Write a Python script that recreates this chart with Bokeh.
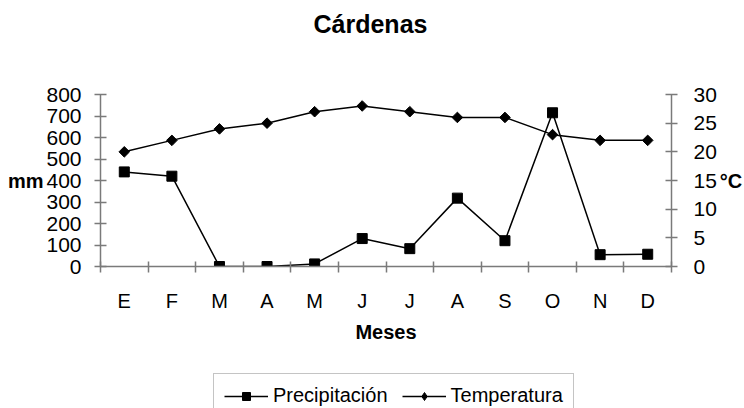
from bokeh.plotting import figure
from bokeh.layouts import column
from bokeh.models import Range1d, LinearAxis, FixedTicker, Legend, LegendItem
from bokeh.embed import file_html
from bokeh.resources import INLINE

months = ["E", "F", "M", "A", "M", "J", "J", "A", "S", "O", "N", "D"]
precipitacion = [440, 420, 0, 0, 12, 130, 83, 318, 120, 715, 55, 57]
temperatura = [20, 22, 24, 25, 27, 28, 27, 26, 26, 23, 22, 22]
mm_ticks = [0, 100, 200, 300, 400, 500, 600, 700, 800]
c_ticks = [0, 5, 10, 15, 20, 25, 30]

FONT = "Liberation Sans"
AX = "#7a7a7a"

xs = [i + 0.5 for i in range(len(months))]

# ---- title strip ----
t = figure(width=744, height=50, output_backend="svg", toolbar_location=None,
           x_axis_type=None, y_axis_type=None, min_border=0,
           title="Cárdenas")
t.outline_line_color = None
t.grid.visible = False
t.title.align = "left"
t.title.offset = 213
t.title.standoff = 14
t.title.text_font = FONT
t.title.text_font_size = "25px"
t.title.text_font_style = "bold"
t.title.text_color = "black"

# ---- main chart ----
p = figure(frame_width=571, frame_height=172, x_range=Range1d(0, len(months)),
           y_range=Range1d(mm_ticks[0], mm_ticks[-1]),
           output_backend="svg", toolbar_location=None,
           min_border_left=100, min_border_right=73,
           min_border_top=44, min_border_bottom=106)
p.extra_y_ranges = {"temp": Range1d(c_ticks[0], c_ticks[-1])}
p.xgrid.visible = False
p.ygrid.visible = False
p.outline_line_color = None

xa = p.xaxis[0]
xa.ticker = FixedTicker(ticks=xs, minor_ticks=list(range(len(months) + 1)))
xa.major_label_overrides = {x: m for x, m in zip(xs, months)}
xa.major_tick_in = 0
xa.major_tick_out = 0
xa.minor_tick_in = 5
xa.minor_tick_out = 6
xa.minor_tick_line_color = AX
xa.axis_line_color = AX
xa.axis_line_width = 1.5
xa.minor_tick_line_width = 1.5
xa.major_label_standoff = 17
xa.major_label_text_font = FONT
xa.major_label_text_font_size = "20px"
xa.major_label_text_color = "black"
xa.axis_label = "Meses"
xa.axis_label_text_font = FONT
xa.axis_label_text_font_size = "20px"
xa.axis_label_text_font_style = "bold"
xa.axis_label_text_color = "black"
xa.axis_label_standoff = 6

ya = p.yaxis[0]
ya.ticker = FixedTicker(ticks=mm_ticks, minor_ticks=[])
ya.major_tick_in = 6
ya.major_tick_out = 6
ya.major_tick_line_color = AX
ya.major_tick_line_width = 1.5
ya.axis_line_color = AX
ya.axis_line_width = 1.5
ya.minor_tick_line_color = None
ya.major_label_standoff = 13
ya.major_label_text_font = FONT
ya.major_label_text_font_size = "21px"
ya.major_label_text_color = "black"
ya.axis_label = "mm"
ya.axis_label_orientation = "horizontal"
ya.axis_label_standoff = 0
ya.axis_label_text_font = FONT
ya.axis_label_text_font_size = "20px"
ya.axis_label_text_font_style = "bold"
ya.axis_label_text_color = "black"

ra = LinearAxis(y_range_name="temp", ticker=FixedTicker(ticks=c_ticks, minor_ticks=[]))
ra.major_tick_in = 6
ra.major_tick_out = 6
ra.major_tick_line_color = AX
ra.major_tick_line_width = 1.5
ra.axis_line_color = AX
ra.axis_line_width = 1.5
ra.minor_tick_line_color = None
ra.major_label_standoff = 16
ra.major_label_text_font = FONT
ra.major_label_text_font_size = "21px"
ra.major_label_text_color = "black"
ra.axis_label = "°C"
ra.axis_label_orientation = "horizontal"
ra.axis_label_standoff = 0
ra.axis_label_text_font = FONT
ra.axis_label_text_font_size = "20px"
ra.axis_label_text_font_style = "bold"
ra.axis_label_text_color = "black"
p.add_layout(ra, "right")

p.line(xs, precipitacion, line_color="black", line_width=1.5)
p.scatter(xs, precipitacion, marker="square", size=10, fill_color="black", line_color="black")
p.line(xs, temperatura, line_color="black", line_width=1.5, y_range_name="temp")
p.scatter(xs, temperatura, marker="square", size=7.5, angle=0.785398,
          fill_color="black", line_color="black", y_range_name="temp")

# ---- legend strip (series drawn off-range, only their legend keys show) ----
lg = figure(width=744, height=36, output_backend="svg", toolbar_location=None,
            x_axis_type=None, y_axis_type=None, min_border=0,
            x_range=Range1d(-2, -1), y_range=Range1d(-2, -1))
lg.outline_line_color = None
lg.grid.visible = False
k1 = lg.line(xs, precipitacion, line_color="black", line_width=1.5)
m1 = lg.scatter(xs, precipitacion, marker="square", size=10, fill_color="black", line_color="black")
k2 = lg.line(xs, temperatura, line_color="black", line_width=1.5)
m2 = lg.scatter(xs, temperatura, marker="diamond", size=12,
                fill_color="black", line_color="black")
legend = Legend(items=[LegendItem(label="Precipitación", renderers=[k1, m1]),
                       LegendItem(label="Temperatura", renderers=[k2, m2])],
                orientation="horizontal", location=(113, -10))
legend.label_text_font = FONT
legend.label_text_font_size = "20px"
legend.label_text_color = "black"
legend.glyph_width = 44
legend.glyph_height = 20
legend.label_standoff = 5
legend.spacing = 14
legend.padding = 10
legend.margin = 0
legend.border_line_color = "#8a8a8a"
legend.border_line_width = 1.5
legend.background_fill_color = "white"
legend.background_fill_alpha = 1
lg.add_layout(legend, "center")

page = column(t, p, lg, spacing=0)
open("out.html", "w").write(file_html(page, INLINE))
